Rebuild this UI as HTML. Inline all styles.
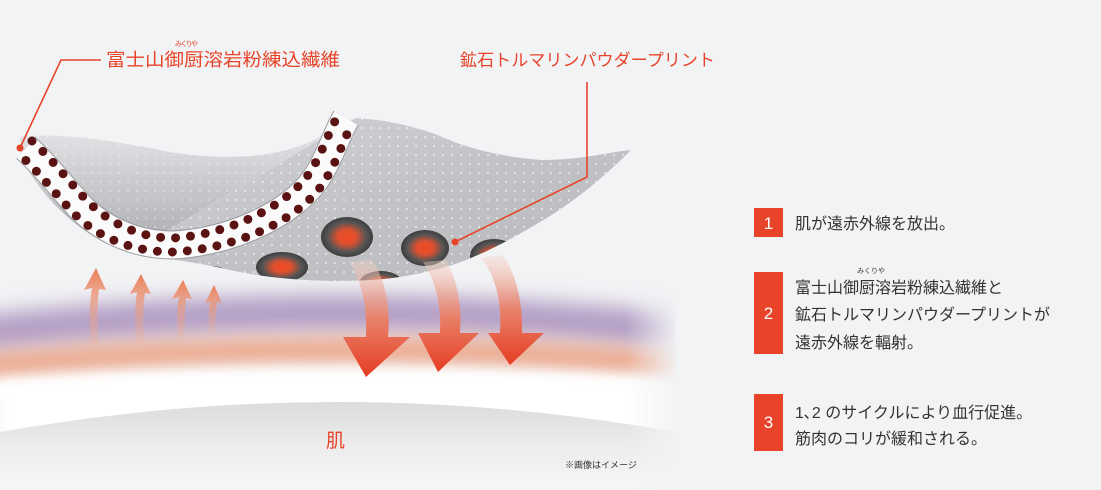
<!DOCTYPE html>
<html><head><meta charset="utf-8"><style>
html,body{margin:0;padding:0;background:#f2f3f5;}
svg{display:block;font-family:"Liberation Sans","Noto Sans CJK JP",sans-serif;}
</style></head><body>
<svg width="1101" height="490" viewBox="0 0 1101 490" xmlns="http://www.w3.org/2000/svg">
<defs>
<linearGradient id="fab" x1="0" y1="0" x2="1" y2="1">
<stop offset="0" stop-color="#d4d5d8"/><stop offset="0.5" stop-color="#c2c3c6"/><stop offset="1" stop-color="#b8b9bc"/>
</linearGradient>
<linearGradient id="back" x1="0" y1="0" x2="0" y2="1">
<stop offset="0" stop-color="#e8e9eb"/><stop offset="1" stop-color="#a9aaad"/>
</linearGradient>
<pattern id="dots" width="9" height="9" patternUnits="userSpaceOnUse">
<circle cx="2" cy="2" r="0.9" fill="#ffffff" opacity="0.85"/>
</pattern>
<radialGradient id="disc">
<stop offset="0" stop-color="#f04a24"/><stop offset="0.35" stop-color="#e0502e"/><stop offset="0.75" stop-color="#555"/><stop offset="1" stop-color="#3e3e3e"/>
</radialGradient>
<linearGradient id="dome" x1="0" y1="0" x2="0" y2="1">
<stop offset="0" stop-color="#dcdcdc"/><stop offset="0.5" stop-color="#ececec"/><stop offset="1" stop-color="#f7f7f7"/>
</linearGradient>
<linearGradient id="dn" x1="0" y1="0" x2="0" y2="1">
<stop offset="0" stop-color="#f4d6ca" stop-opacity="0.4"/><stop offset="0.5" stop-color="#e8826a"/><stop offset="1" stop-color="#e63c22"/>
</linearGradient>
<linearGradient id="up" x1="0" y1="1" x2="0" y2="0">
<stop offset="0" stop-color="#f0b49c" stop-opacity="0.2"/><stop offset="1" stop-color="#ea7e58"/>
</linearGradient>
<linearGradient id="fadeR" x1="0" y1="0" x2="1" y2="0">
<stop offset="0.92" stop-color="#f2f3f5" stop-opacity="0"/><stop offset="1" stop-color="#f2f3f5"/>
</linearGradient>
<filter id="bl" filterUnits="userSpaceOnUse" x="-100" y="200" width="900" height="280"><feGaussianBlur stdDeviation="10"/></filter>
<filter id="bl2" filterUnits="userSpaceOnUse" x="-100" y="200" width="900" height="280"><feGaussianBlur stdDeviation="6"/></filter>
<clipPath id="ill"><rect x="0" y="0" width="676" height="490"/></clipPath>
<clipPath id="fc"><path d="M356,118 C390,120 420,128 440,136 C470,150 510,158 542,160 C580,160 610,152 631,150 L624,157 C600,180 570,205 540,222 C510,240 470,262 434,270 C400,278 380,281 330,281 C280,280 240,273 217,267 C180,260 150,256 130,253 Z"/></clipPath>
</defs>
<rect width="1101" height="490" fill="#f2f3f5"/>
<!-- bands -->
<g clip-path="url(#ill)">
<rect x="0" y="375" width="676" height="115" fill="#ffffff" filter="url(#bl2)"/>
<path d="M-40,336 Q338,290 720,336" stroke="#b39ec4" stroke-width="36" fill="none" filter="url(#bl)"/>
<path d="M-40,368 Q338,332 720,368" stroke="#eb9c7c" stroke-width="22" fill="none" filter="url(#bl)"/>
<path d="M-40,394 Q338,364 720,394" stroke="#ffffff" stroke-width="20" fill="none" filter="url(#bl2)"/>
<path d="M0,432 Q338,372 676,432 L676,490 L0,490 Z" fill="url(#dome)"/>
<rect x="0" y="260" width="680" height="230" fill="url(#fadeR)"/>
</g>
<!-- up arrows -->
<g fill="url(#up)">
<path d="M91,350 Q88,310 92,288 L84,290 L96,268 L106,290 L99,289 Q96,310 99,350 Z"/>
<path d="M136,345 Q134,310 137,292 L130,294 L141,274 L151,294 L145,293 Q142,312 144,345 Z"/>
<path d="M178,340 Q176,312 179,297 L172,299 L183,280 L192,299 L186,298 Q184,315 185,340 Z"/>
<path d="M209,334 Q208,312 210,302 L205,303 L214,285 L222,303 L217,302 Q215,316 216,334 Z"/>
</g>
<!-- fabric back -->
<path d="M20,137 C60,132 110,140 170,152 C230,162 300,158 336,125 L356,118 L130,253 C90,240 50,210 22,160 Z" fill="url(#back)"/>
<path d="M20,137 C60,132 110,140 170,152 C230,162 300,158 336,125 L356,118 L130,253 C90,240 50,210 22,160 Z" fill="url(#dots)" opacity="0.6"/>
<!-- fabric front -->
<path d="M356,118 C390,120 420,128 440,136 C470,150 510,158 542,160 C580,160 610,152 631,150 L624,157 C600,180 570,205 540,222 C510,240 470,262 434,270 C400,278 380,281 330,281 C280,280 240,273 217,267 C180,260 150,256 130,253 Z" fill="url(#fab)"/>
<path d="M356,118 C390,120 420,128 440,136 C470,150 510,158 542,160 C580,160 610,152 631,150 L624,157 C600,180 570,205 540,222 C510,240 470,262 434,270 C400,278 380,281 330,281 C280,280 240,273 217,267 C180,260 150,256 130,253 Z" fill="url(#dots)"/>
<g clip-path="url(#fc)">
<ellipse cx="347" cy="237" rx="26" ry="20" fill="url(#disc)"/>
<ellipse cx="425" cy="248" rx="24" ry="18" fill="url(#disc)"/>
<ellipse cx="282" cy="267" rx="26" ry="15" fill="url(#disc)"/>
<ellipse cx="494" cy="256" rx="24" ry="17" fill="url(#disc)"/>
<ellipse cx="381" cy="284" rx="22" ry="13" fill="url(#disc)"/>
<ellipse cx="212" cy="276" rx="16" ry="10" fill="url(#disc)"/>
</g>
<!-- strip -->
<path d="M26,148 C45,165 60,185 74,200 C95,225 130,245 173,245 C230,242 290,215 315,180 C330,158 336,135 346,118" fill="none" stroke="#9a9b9e" stroke-width="29"/>
<path d="M26,148 C45,165 60,185 74,200 C95,225 130,245 173,245 C230,242 290,215 315,180 C330,158 336,135 346,118" fill="none" stroke="#fbfbfb" stroke-width="27"/>
<g fill="none" stroke="#5a1212" stroke-width="9" stroke-linecap="round" stroke-dasharray="0 15">
<path d="M32,141 C51,158 66,178 80,193 C101,218 134,238 173,238 C226,235 284,208 308,175 C323,153 329,130 339,114"/>
<path d="M20,155 C39,172 54,192 68,207 C89,232 126,252 173,252 C234,249 296,222 322,185 C337,163 343,140 353,122" stroke-dashoffset="7"/>
</g>
<!-- down arrows -->
<g fill="url(#dn)">
<path d="M349,262 Q368,290 366,337 L343,337 L366,377 L410,337 L388,337 Q392,290 372,260 Z"/>
<path d="M423,262 Q442,290 440,333 L418,333 L438,372 L479,333 L460,333 Q463,290 446,260 Z"/>
<path d="M481,258 Q503,285 500,333 L488,333 L510,365 L544,333 L522,333 Q523,285 503,255 Z"/>
</g>
<!-- leaders -->
<g stroke="#e8442a" stroke-width="1.6" fill="none">
<polyline points="101,60 61,60 20,148"/>
<polyline points="587,82 587,177 455,242"/>
</g>
<circle cx="20" cy="148" r="3.5" fill="#e8442a"/>
<circle cx="455" cy="242" r="3.5" fill="#e8442a"/>
<!-- labels -->
<g fill="#e8442a">
<text x="106" y="66" font-size="18" textLength="234" lengthAdjust="spacingAndGlyphs">富士山御厨溶岩粉練込繊維</text>
<text x="175" y="46" font-size="7" textLength="23">みくりや</text>
<text x="460" y="66" font-size="17" textLength="255" lengthAdjust="spacingAndGlyphs">鉱石トルマリンパウダープリント</text>
<text x="326" y="447" font-size="19">肌</text>
</g>
<text x="565" y="468" font-size="9" fill="#333">※画像はイメージ</text>
<!-- right panel -->
<g fill="#e8442a">
<rect x="754" y="208" width="29" height="29"/>
<rect x="754" y="272" width="29" height="82"/>
<rect x="754" y="394" width="29" height="57"/>
</g>
<g fill="#fff" font-size="17" text-anchor="middle">
<text x="768.5" y="229">1</text>
<text x="768.5" y="319">2</text>
<text x="768.5" y="428">3</text>
</g>
<g fill="#333" font-size="16">
<text x="795" y="229">肌が遠赤外線を放出。</text>
<text x="795" y="293">富士山御厨溶岩粉練込繊維と</text>
<text x="795" y="320">鉱石トルマリンパウダープリントが</text>
<text x="795" y="348">遠赤外線を輻射。</text>
<text x="795" y="418">1､2 のサイクルにより血行促進。</text>
<text x="795" y="444">筋肉のコリが緩和される。</text>
<text x="857" y="273" font-size="7">みくりや</text>
</g>
</svg>
</body></html>
